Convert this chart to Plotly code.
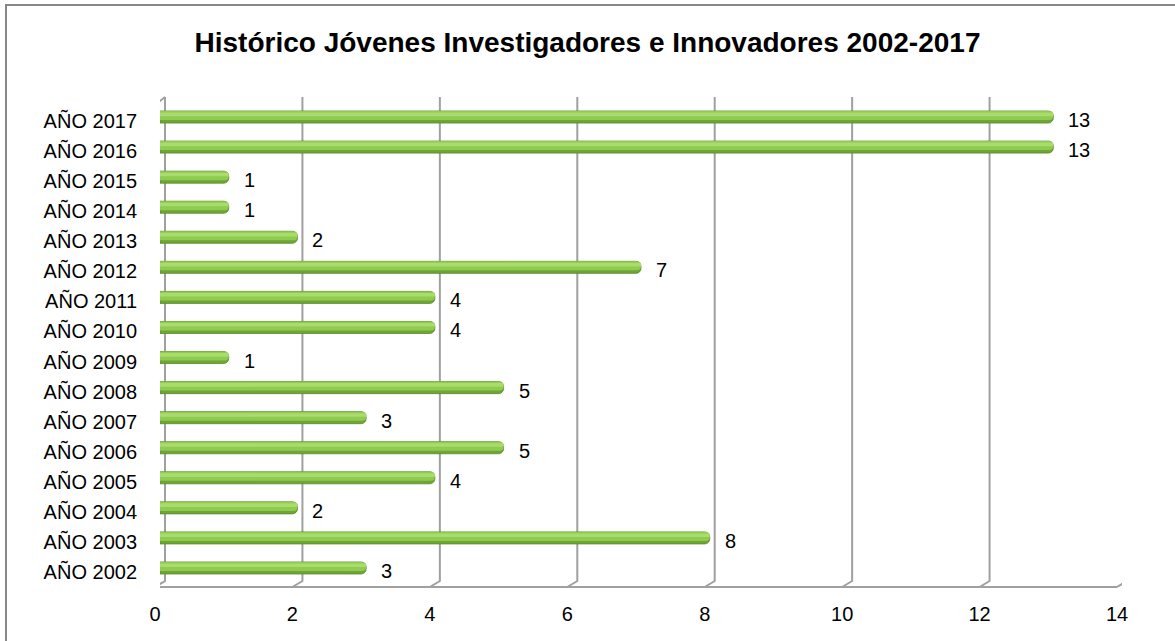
import plotly.graph_objects as go

categories = ["AÑO 2002", "AÑO 2003", "AÑO 2004", "AÑO 2005", "AÑO 2006", "AÑO 2007",
              "AÑO 2008", "AÑO 2009", "AÑO 2010", "AÑO 2011", "AÑO 2012", "AÑO 2013",
              "AÑO 2014", "AÑO 2015", "AÑO 2016", "AÑO 2017"]
values = [3, 8, 2, 4, 5, 3, 5, 1, 4, 4, 7, 2, 1, 1, 13, 13]
x_ticks = [0, 2, 4, 6, 8, 10, 12, 14]
title = "Histórico Jóvenes Investigadores e Innovadores 2002-2017"

W, H = 1175, 641
def X(px): return px / W
def Y(py): return 1 - py / H

FONT = "Liberation Sans, Arial, sans-serif"
GRID = "#a0a0a0"

fig = go.Figure()

# cylinder-like bars: dark base, mid body, light highlight
fig.add_trace(go.Bar(y=categories, x=values, orientation="h", width=0.40, offset=-0.20,
                     marker=dict(color="#6ea536", line=dict(color="#5a8a28", width=0.8), cornerradius=5),
                     hoverinfo="skip", showlegend=False))
fig.add_trace(go.Bar(y=categories, x=values, orientation="h", width=0.30, offset=-0.10,
                     marker=dict(color="#8ecb4e", line=dict(width=0), cornerradius=4),
                     hoverinfo="skip", showlegend=False))
fig.add_trace(go.Bar(y=categories, x=values, orientation="h", width=0.12, offset=0.03,
                     marker=dict(color="#a9dc6c", line=dict(width=0), cornerradius=3),
                     hoverinfo="skip", showlegend=False))

for c, v in zip(categories, values):
    fig.add_annotation(x=v, y=c, xref="x", yref="y", text=str(v), showarrow=False,
                       xanchor="left", xshift=13, yshift=-3,
                       font=dict(family=FONT, size=20, color="#000000"))

shapes = []
# back-wall gridlines with diagonal to the floor
for v in x_ticks:
    shapes.append(dict(type="path", xref="x", yref="paper", xsizemode="pixel", xanchor=v,
                       path=f"M 5,{Y(97)} L 5,{Y(581)} L -5,{Y(587)}",
                       line=dict(color=GRID, width=2), layer="below"))
# left front wall edge
shapes.append(dict(type="path", xref="x", yref="paper", xsizemode="pixel", xanchor=0,
                   path=f"M 5,{Y(97)} L -5,{Y(105)} L -5,{Y(587)}",
                   line=dict(color=GRID, width=2), layer="below"))
# floor front edge
unit_px = (1122 - 160) / 14
d = 5 / unit_px
shapes.append(dict(type="line", xref="x", yref="paper", x0=0 - d, x1=14 - d, y0=Y(587), y1=Y(587),
                   line=dict(color=GRID, width=2), layer="below"))
# chart border
shapes.append(dict(type="rect", xref="paper", yref="paper", x0=X(6), x1=1.05, y0=-0.05, y1=Y(5),
                   line=dict(color="#878787", width=2), layer="below"))

fig.update_layout(
    width=W, height=H,
    margin=dict(l=0, r=0, t=0, b=0, pad=0, autoexpand=False),
    paper_bgcolor="white", plot_bgcolor="rgba(0,0,0,0)",
    barmode="overlay",
    shapes=shapes,
    title=dict(text=f"<b>{title}</b>", x=0.5, xanchor="center", y=Y(42), yanchor="middle",
               font=dict(family=FONT, size=28, color="#000000")),
    xaxis=dict(domain=[X(160), X(1122)], range=[0, 14], tickvals=x_ticks, showgrid=False,
               zeroline=False, showline=False, ticks="", ticklabelstandoff=16, ticklabelshift=-5,
               automargin=False,
               tickfont=dict(family=FONT, size=20, color="#000000")),
    yaxis=dict(domain=[Y(584), Y(102)], type="category", categoryorder="array",
               categoryarray=categories, showgrid=False, zeroline=False, showline=False,
               ticks="", ticklabelstandoff=22, ticklabelshift=4, automargin=False,
               tickfont=dict(family=FONT, size=20, color="#000000")),
)

fig.write_html("out.html", config={"displayModeBar": False},
               post_script="document.body.style.margin='0';document.body.style.overflow='hidden';")
